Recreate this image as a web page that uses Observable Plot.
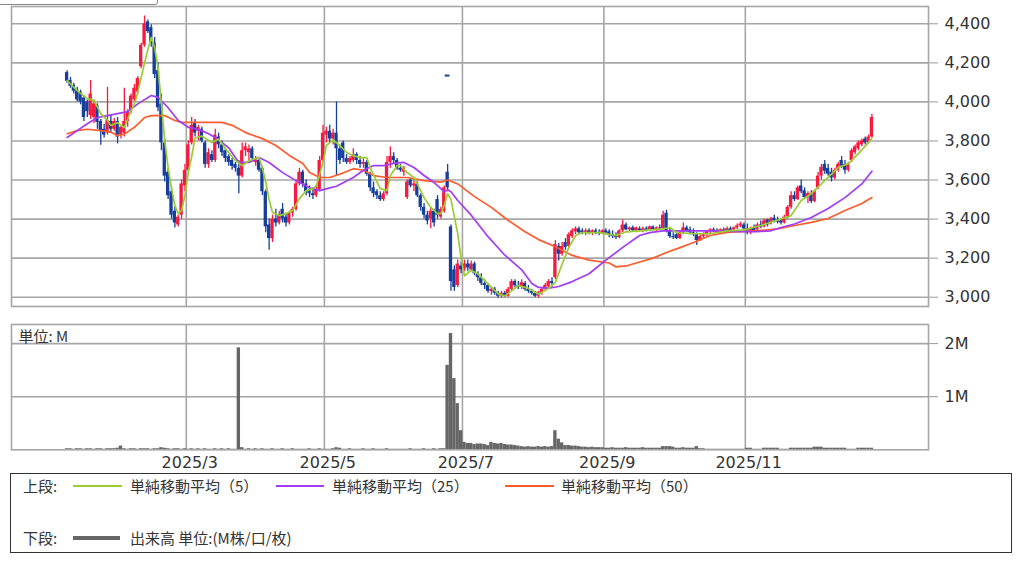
<!DOCTYPE html>
<html><head><meta charset="utf-8">
<script src="https://cdn.jsdelivr.net/npm/d3@7"></script>
<script src="https://cdn.jsdelivr.net/npm/@observablehq/plot@0.6"></script>
<style>
html,body{margin:0;padding:0;background:#fff;}
body{width:1024px;height:561px;overflow:hidden;position:relative;font-family:"DejaVu Sans",sans-serif;color:#333;}
.chart{position:absolute;left:0;}
#price{top:0;}
#vol{top:310px;}
#topbox{position:absolute;left:-2px;top:-20px;width:158px;height:23px;border:1.5px solid #888;border-radius:3px;background:#fff;}
#legend{position:absolute;left:10px;top:473px;width:1002px;height:80px;box-sizing:border-box;border:1.5px solid #333;}
.lg{position:absolute;height:20px;line-height:20px;font-family:"Noto Sans CJK JP",sans-serif;font-size:15px;color:#333;white-space:nowrap;}
.ln{position:absolute;}
svg [aria-label="y-axis tick"] path{stroke:#999;}
</style></head>
<body>
<div id="price" class="chart"></div>
<div id="vol" class="chart"></div>
<div id="topbox"></div>
<div id="legend"></div>
<div class="lg" style="left:23px;top:476px;">上段:</div>
<div class="ln" style="left:73px;top:485px;width:49px;height:2px;background:#9acd32;"></div>
<div class="lg" style="left:130px;top:476px;">単純移動平均（5）</div>
<div class="ln" style="left:276px;top:485px;width:48px;height:2px;background:#a23cf5;"></div>
<div class="lg" style="left:332px;top:476px;">単純移動平均（25）</div>
<div class="ln" style="left:505px;top:485px;width:49px;height:2px;background:#ff5c2e;"></div>
<div class="lg" style="left:561px;top:476px;">単純移動平均（50）</div>
<div class="lg" style="left:23px;top:528px;">下段:</div>
<div class="ln" style="left:73px;top:536px;width:47px;height:4px;background:#666;"></div>
<div class="lg" style="left:130px;top:528px;">出来高 単位:(M株/口/枚)</div>
<script>
// ---- data (index = trading day, 0 = 2025-01-07 ... 239 = 2025-12-26) ----
const priceTicks = [3000,3200,3400,3600,3800,4000,4200,4400];
const volTicks = [1,2];
const monthFirstIdx = [36,77,118,160,202];
const monthLabels = ["2025/3","2025/5","2025/7","2025/9","2025/11"];

const open = [
4150,4110,4085,4060,4050,4020,4000,3930,3920,3980,
3900,3860,3840,3900,3860,3900,3830,3840,3900,3950,
4010,4050,4180,4290,4410,4380,4300,4160,3990,3790,
3640,3540,3440,3370,3420,3570,3650,3790,3890,3850,
3860,3790,3680,3730,3700,3820,3780,3750,3720,3700,
3680,3660,3620,3750,3740,3760,3690,3700,3660,3540,
3370,3300,3400,3380,3450,3410,3380,3430,3450,3580,
3640,3580,3545,3530,3520,3550,3700,3830,3850,3810,
3840,3760,3790,3710,3690,3700,3730,3700,3680,3690,
3630,3560,3540,3520,3500,3530,3690,3720,3700,3660,
3640,3510,3600,3570,3580,3520,3460,3420,3400,3440,
3500,3410,3440,3640,3360,3140,3060,3160,3140,3170,
3140,3170,3120,3100,3070,3060,3030,3040,3020,3005,
3020,3005,3040,3080,3060,3050,3070,3040,3030,3020,
3005,3020,3040,3055,3080,3100,3260,3220,3280,3260,
3310,3335,3350,3340,3330,3340,3330,3340,3330,3325,
3340,3335,3320,3310,3305,3340,3370,3345,3355,3340,
3350,3340,3350,3345,3360,3345,3355,3350,3430,3340,
3310,3320,3300,3330,3355,3345,3330,3320,3290,3310,
3320,3335,3345,3340,3335,3345,3340,3350,3345,3355,
3365,3370,3350,3330,3355,3345,3370,3360,3395,3375,
3405,3395,3390,3380,3410,3460,3520,3500,3570,3545,
3515,3530,3490,3560,3620,3680,3660,3640,3610,3650,
3700,3680,3650,3700,3740,3760,3780,3810,3790,3820];
const high = [
4160,4125,4095,4075,4060,4030,4010,4110,4010,3990,
3910,3885,4075,3930,3915,3920,3880,4070,3960,4040,
4090,4130,4300,4440,4420,4395,4330,4200,4040,3810,
3660,3560,3460,3420,3600,3680,3800,3920,3910,3880,
3870,3800,3760,3750,3860,3840,3800,3760,3730,3710,
3690,3700,3790,3790,3780,3770,3720,3710,3670,3550,
3400,3420,3450,3440,3480,3430,3440,3460,3600,3660,
3650,3600,3570,3560,3570,3720,3880,3870,3880,3860,
4000,3780,3800,3730,3720,3760,3740,3720,3710,3700,
3640,3590,3550,3540,3540,3720,3770,3740,3710,3680,
3670,3600,3610,3600,3590,3530,3480,3440,3460,3450,
3520,3460,3570,3680,3370,3160,3190,3180,3190,3190,
3185,3180,3130,3120,3090,3070,3050,3050,3030,3030,
3030,3050,3090,3090,3080,3090,3080,3060,3040,3030,
3030,3050,3070,3090,3100,3290,3275,3280,3300,3330,
3350,3360,3360,3350,3350,3350,3345,3350,3345,3345,
3350,3345,3340,3330,3345,3395,3380,3360,3365,3360,
3360,3360,3360,3365,3365,3360,3370,3440,3445,3350,
3330,3330,3340,3380,3365,3360,3350,3330,3320,3330,
3340,3350,3355,3350,3350,3355,3360,3360,3360,3375,
3385,3380,3375,3360,3370,3380,3390,3400,3400,3410,
3420,3410,3400,3420,3470,3540,3540,3570,3600,3560,
3540,3545,3550,3640,3680,3700,3680,3660,3660,3690,
3720,3700,3690,3760,3780,3800,3810,3820,3830,3935];
const low = [
4095,4070,4040,4000,3985,3900,3920,3910,3890,3860,
3778,3815,3830,3840,3850,3785,3810,3820,3870,3940,
4000,4040,4170,4280,4350,4280,4120,3950,3750,3590,
3500,3400,3355,3360,3400,3540,3640,3780,3820,3800,
3790,3660,3660,3690,3690,3760,3720,3690,3670,3650,
3640,3530,3610,3720,3700,3700,3670,3640,3520,3330,
3240,3280,3360,3370,3380,3360,3370,3410,3440,3570,
3560,3520,3510,3500,3510,3540,3690,3790,3790,3780,
3620,3680,3690,3680,3680,3690,3680,3660,3660,3620,
3540,3510,3500,3490,3490,3520,3660,3680,3650,3640,
3620,3500,3560,3540,3510,3440,3400,3370,3350,3360,
3400,3400,3430,3540,3030,3030,3050,3120,3130,3130,
3130,3110,3080,3060,3040,3020,3010,3010,2995,2995,
2998,3000,3030,3050,3040,3040,3030,3020,3010,2998,
2995,3010,3030,3045,3050,3090,3185,3210,3240,3250,
3300,3320,3320,3320,3315,3320,3315,3320,3315,3320,
3320,3305,3300,3295,3300,3330,3340,3330,3335,3330,
3335,3330,3335,3340,3340,3335,3340,3345,3330,3300,
3295,3295,3295,3320,3330,3320,3310,3265,3285,3300,
3310,3320,3330,3325,3325,3330,3330,3335,3335,3345,
3355,3340,3320,3320,3330,3340,3350,3355,3360,3370,
3380,3375,3370,3375,3400,3450,3490,3495,3530,3500,
3480,3480,3485,3550,3600,3630,3620,3590,3600,3640,
3660,3630,3640,3690,3730,3750,3770,3780,3785,3815];
const close = [
4105,4080,4055,4010,4000,3920,3950,4040,3990,3895,
3850,3830,3905,3860,3900,3820,3870,3900,3950,4030,
4070,4120,4290,4400,4360,4300,4140,3970,3790,3620,
3520,3420,3380,3410,3580,3650,3780,3880,3840,3870,
3800,3680,3740,3700,3830,3780,3740,3710,3690,3670,
3660,3620,3750,3770,3760,3710,3700,3650,3540,3360,
3300,3400,3380,3420,3400,3380,3430,3450,3580,3640,
3580,3540,3530,3520,3550,3700,3840,3850,3810,3840,
3760,3700,3710,3690,3710,3730,3700,3680,3690,3630,
3560,3530,3520,3500,3530,3690,3720,3700,3660,3650,
3660,3590,3570,3580,3520,3460,3420,3390,3440,3380,
3420,3450,3560,3560,3080,3050,3170,3140,3170,3150,
3170,3120,3100,3070,3060,3030,3040,3020,3005,3020,
3005,3040,3080,3060,3050,3075,3040,3030,3020,3005,
3025,3040,3060,3080,3070,3270,3220,3260,3255,3320,
3340,3350,3330,3330,3340,3325,3340,3330,3325,3340,
3330,3320,3310,3305,3340,3370,3345,3355,3340,3355,
3340,3350,3342,3360,3345,3355,3350,3420,3340,3310,
3305,3300,3330,3355,3340,3330,3320,3290,3310,3320,
3335,3345,3335,3330,3345,3335,3350,3340,3355,3365,
3375,3350,3330,3350,3340,3370,3360,3390,3370,3400,
3390,3385,3380,3410,3460,3520,3500,3560,3540,3510,
3530,3490,3540,3620,3665,3645,3630,3610,3650,3680,
3670,3650,3680,3750,3770,3790,3800,3790,3820,3920];
const volume = [
.02,.02,.01,.02,.02,.01,.02,.02,.01,.02,
.02,.01,.02,.02,.02,.03,.07,.02,.01,.02,
.02,.01,.02,.02,.02,.01,.02,.02,.04,.03,
.02,.01,.02,.02,.01,.02,.01,.02,.01,.02,
.01,.02,.01,.01,.02,.01,.02,.01,.02,.01,
.01,1.92,.04,.01,.02,.01,.02,.01,.02,.01,
.01,.02,.01,.01,.02,.01,.01,.02,.01,.01,
.01,.01,.02,.01,.01,.02,.01,.01,.01,.02,
.04,.03,.01,.01,.02,.01,.01,.01,.02,.01,
.01,.02,.01,.01,.01,.02,.01,.01,.01,.01,
.01,.01,.02,.01,.01,.01,.02,.01,.01,.02,
.01,.02,.02,1.59,2.19,1.34,.87,.36,.14,.12,
.12,.10,.11,.11,.10,.08,.14,.12,.11,.12,
.10,.09,.09,.08,.07,.06,.05,.06,.05,.05,
.06,.05,.06,.05,.06,.36,.20,.13,.08,.08,
.07,.07,.06,.05,.05,.04,.05,.04,.04,.04,
.03,.03,.04,.03,.03,.03,.04,.03,.03,.03,
.03,.04,.03,.03,.03,.03,.03,.06,.06,.06,
.05,.03,.03,.04,.03,.03,.03,.06,.02,.02,
.01,.01,.01,.01,.01,.01,.01,.01,.01,.01,
.01,.01,.03,.03,.01,.01,.01,.03,.03,.03,
.03,.03,.01,.01,.01,.03,.03,.03,.03,.03,
.03,.03,.05,.05,.05,.03,.03,.03,.03,.03,
.03,.03,.01,.01,.01,.03,.03,.03,.03,.03];
const outlierIdx = [113];
const outlierVal = [4135];

const ma5Idx = [0,3,6,8,10,12,13,15,16,17,19,20,21,22,23,24,25,26,27,28,29,30,31,32,33,34,35,36,37,38,40,43,45,47,50,52,54,57,58,59,60,61,63,65,67,69,71,73,74,76,77,79,81,83,85,87,89,90,92,93,95,96,98,99,101,103,105,106,108,110,111,112,113,114,116,117,118,120,122,125,128,130,132,134,137,140,143,145,147,149,151,153,158,163,166,170,177,179,181,186,191,196,201,206,211,215,218,221,225,229,232,235,238,239];
const ma5Val = [4109,4058,4017,4007,3940,3905,3879,3894,3879,3869,3956,3990,4050,4125,4200,4270,4330,4278,4176,3990,3802,3664,3560,3470,3428,3444,3520,3640,3720,3815,3825,3792,3810,3761,3700,3674,3700,3715,3659,3590,3500,3434,3418,3428,3444,3505,3546,3556,3570,3690,3777,3805,3777,3741,3725,3715,3715,3664,3590,3556,3546,3623,3674,3674,3638,3613,3546,3510,3460,3428,3428,3470,3530,3500,3326,3200,3110,3137,3119,3068,3017,3007,3033,3060,3045,3017,3045,3076,3170,3255,3316,3331,3331,3316,3335,3340,3350,3357,3330,3325,3325,3340,3345,3367,3395,3418,3495,3530,3597,3664,3684,3735,3793,3815];

const ma25Idx = [0,3,6,9,12,15,18,21,25,27,30,33,36,38,40,42,44,46,48,49,51,54,57,60,64,68,72,75,78,80,85,88,91,94,97,100,103,106,109,111,112,113,114,116,120,125,130,135,138,140,143,146,150,155,160,165,170,173,177,181,191,200,205,209,212,216,221,226,231,236,239];
const ma25Val = [3818,3853,3888,3920,3930,3940,3950,3990,4033,4023,3970,3905,3870,3863,3853,3837,3818,3792,3765,3740,3690,3690,3715,3690,3638,3597,3560,3546,3560,3568,3613,3650,3674,3674,3685,3690,3664,3623,3587,3556,3538,3550,3540,3495,3420,3310,3215,3140,3070,3050,3046,3055,3080,3120,3190,3255,3316,3331,3340,3340,3340,3336,3336,3340,3357,3375,3408,3454,3510,3580,3645];

const ma50Idx = [0,3,6,10,13,15,17,20,23,25,29,32,34,40,46,49,53,58,62,66,70,72,75,78,81,85,88,91,95,101,106,111,113,116,121,126,131,136,140,145,150,155,161,163,166,170,174,178,182,186,191,196,201,206,211,216,221,226,231,236,239];
const ma50Val = [3837,3853,3860,3853,3845,3828,3835,3870,3920,3930,3930,3905,3895,3895,3895,3880,3843,3812,3777,3726,3685,3639,3613,3613,3630,3658,3650,3623,3613,3613,3597,3589,3600,3580,3515,3460,3393,3335,3295,3258,3214,3190,3175,3155,3160,3180,3200,3229,3254,3280,3316,3332,3337,3342,3350,3367,3383,3403,3444,3480,3510];

// ---- build ----
const UP = "#f8193f", DOWN = "#163e9c";
const GRID = "#a6a6a6";
const candles = open.map((o, i) => ({i, o, h: high[i], l: low[i], c: close[i]}));
const ups = candles.filter(d => d.c >= d.o);
const downs = candles.filter(d => d.c < d.o);
const vols = volume.map((v, i) => ({i, v}));
const outliers = outlierIdx.map((i, k) => ({i, v: outlierVal[k]}));
const ma = (idx, val) => idx.map((i, k) => ({i, v: val[k]}));
const xDomain = [-16.51, 255.8];
const gridX = monthFirstIdx.map(d => d - 0.6);

const price = Plot.plot({
  width: 1024, height: 310,
  marginLeft: 11, marginRight: 96, marginTop: 6, marginBottom: 4,
  style: {fontFamily: "DejaVu Sans", fontSize: "16px", color: "#333", background: "transparent", overflow: "visible"},
  x: {domain: xDomain, axis: null},
  y: {domain: [2952.4, 4488.6], axis: "right", ticks: priceTicks, tickFormat: d3.format(","), tickSize: 9, tickPadding: 7, label: null},
  marks: [
    Plot.ruleY(priceTicks, {stroke: GRID, strokeWidth: 1.6}),
    Plot.ruleX(gridX, {stroke: GRID, strokeWidth: 1.6}),
    Plot.ruleX(ups, {x: "i", y1: "l", y2: "h", stroke: UP, strokeWidth: 1.3}),
    Plot.ruleX(downs, {x: "i", y1: "l", y2: "h", stroke: DOWN, strokeWidth: 1.3}),
    Plot.rect(ups, {x1: d => d.i - 0.49, x2: d => d.i + 0.49, y1: "o", y2: "c", fill: UP}),
    Plot.rect(downs, {x1: d => d.i - 0.49, x2: d => d.i + 0.49, y1: "c", y2: "o", fill: DOWN}),
    Plot.ruleY(outliers, {y: "v", x1: d => d.i - 0.7, x2: d => d.i + 0.7, stroke: DOWN, strokeWidth: 2}),
    Plot.line(ma(ma50Idx, ma50Val), {x: "i", y: "v", stroke: "#ff5c2e", strokeWidth: 1.7}),
    Plot.line(ma(ma25Idx, ma25Val), {x: "i", y: "v", stroke: "#a23cf5", strokeWidth: 1.7}),
    Plot.line(ma(ma5Idx, ma5Val), {x: "i", y: "v", stroke: "#9acd32", strokeWidth: 1.7}),
    Plot.frame({stroke: GRID, strokeWidth: 1.6})
  ]
});
document.getElementById("price").appendChild(price);

const vol = Plot.plot({
  width: 1024, height: 175,
  marginLeft: 11, marginRight: 96, marginTop: 14, marginBottom: 35.7,
  style: {fontFamily: "DejaVu Sans", fontSize: "16px", color: "#333", background: "transparent", overflow: "visible"},
  x: {domain: xDomain, axis: null},
  y: {domain: [0, 2.36], axis: "right", ticks: volTicks, tickFormat: d => d + "M", tickSize: 9, tickPadding: 7, label: null},
  marks: [
    Plot.ruleY(volTicks, {stroke: GRID, strokeWidth: 1.6}),
    Plot.ruleX(gridX, {stroke: GRID, strokeWidth: 1.6}),
    Plot.rectY(vols, {x1: d => d.i - 0.5, x2: d => d.i + 0.5, y: "v", fill: "#666"}),
    Plot.text(monthLabels, {x: (d, k) => monthFirstIdx[k] + 0.4, text: d => d, frameAnchor: "bottom", dy: 13, lineAnchor: "middle", fontSize: 16, fill: "#333"}),
    Plot.text(["単位: M"], {frameAnchor: "top-left", dx: 7, dy: 13, lineAnchor: "middle", textAnchor: "start", fontFamily: "Noto Sans CJK JP", fontSize: 15, fill: "#333"}),
    Plot.frame({stroke: GRID, strokeWidth: 1.6})
  ]
});
document.getElementById("vol").appendChild(vol);
</script>
</body></html>
